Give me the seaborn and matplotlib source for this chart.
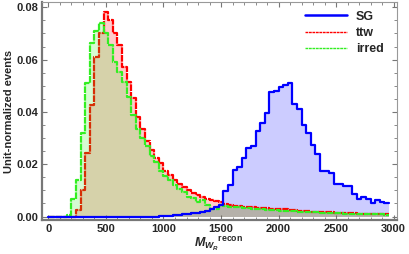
import numpy as np
import pandas as pd
import matplotlib
matplotlib.use("Agg")
import matplotlib.pyplot as plt
from matplotlib.lines import Line2D
from matplotlib.ticker import MultipleLocator, FormatStrFormatter
import seaborn as sns

# bin edges: 0 .. 2960 GeV in steps of 40
bin_width = 40
n_bins = 74

sg = [0.0] * 24 + [
    0.0001, 0.0002, 0.0003, 0.0005, 0.0006, 0.0008, 0.0010, 0.0012, 0.0015, 0.0018,
    0.0022, 0.0028, 0.0038, 0.0046, 0.0099, 0.0121, 0.0178, 0.0191, 0.0223, 0.0261,
    0.0270, 0.0328, 0.0359, 0.0395, 0.0475, 0.0481, 0.0496, 0.0503, 0.0511, 0.0430,
    0.0410, 0.0350, 0.0318, 0.0275, 0.0240, 0.0176, 0.0176, 0.0168, 0.0124, 0.0124,
    0.0115, 0.0115, 0.0085, 0.0066, 0.0074, 0.0066, 0.0053, 0.0064, 0.0055, 0.0053,
]

ttw = [0.0] * 6 + [
    0.0026, 0.0102, 0.0242, 0.0426, 0.0611, 0.0700, 0.0780, 0.0750, 0.0700, 0.0655,
    0.0573, 0.0515, 0.0452, 0.0380, 0.0335, 0.0290, 0.0255, 0.0225, 0.0205, 0.0175,
    0.0160, 0.0140, 0.0126, 0.0112, 0.0100, 0.0090, 0.0082, 0.0074, 0.0066, 0.0062,
    0.0058, 0.0055, 0.0048, 0.0044, 0.0042, 0.0040, 0.0038, 0.0037, 0.0035, 0.0034,
    0.0033, 0.0031, 0.0030, 0.0029, 0.0028, 0.0027, 0.0025, 0.0024, 0.0022, 0.0021,
    0.0020, 0.0019, 0.0018, 0.0017, 0.0016, 0.0016, 0.0015, 0.0014, 0.0013, 0.0013,
    0.0012, 0.0011, 0.0011, 0.0010, 0.0010, 0.0009, 0.0009, 0.0008,
]

irred = [0.0] * 4 + [
    0.0006, 0.0068, 0.0140, 0.0318, 0.0509, 0.0664, 0.0709, 0.0738, 0.0700, 0.0655,
    0.0592, 0.0553, 0.0515, 0.0458, 0.0388, 0.0335, 0.0300, 0.0270, 0.0232, 0.0210,
    0.0176, 0.0155, 0.0140, 0.0121, 0.0104, 0.0092, 0.0076, 0.0070, 0.0057, 0.0064,
    0.0045, 0.0030, 0.0028, 0.0045, 0.0040, 0.0038, 0.0036, 0.0035, 0.0033, 0.0033,
    0.0030, 0.0029, 0.0029, 0.0026, 0.0025, 0.0026, 0.0023, 0.0022, 0.0021, 0.0020,
    0.0019, 0.0019, 0.0017, 0.0016, 0.0016, 0.0015, 0.0014, 0.0013, 0.0013, 0.0012,
    0.0011, 0.0011, 0.0010, 0.0010, 0.0009, 0.0009, 0.0008, 0.0008, 0.0008, 0.0007,
]

labels = ["SG", "ttw", "irred"]
colors = ["#0000ff", "#ff0000", "#33ee22"]

edges = [i * bin_width for i in range(n_bins + 1)]
centers = [e + bin_width / 2 for e in edges[:-1]]

sns.set_style("ticks")
plt.rcParams["font.family"] = ["Liberation Sans", "DejaVu Sans"]
plt.rcParams["font.weight"] = "bold"
plt.rcParams["mathtext.fontset"] = "custom"
plt.rcParams["mathtext.it"] = "Liberation Sans:bold:italic"
plt.rcParams["mathtext.rm"] = "Liberation Sans:bold"

fig = plt.figure(figsize=(4.09, 2.54), dpi=100)
ax = fig.add_axes([0.1015, 0.132, 0.868, 0.860])

series = [sg, ttw, irred]
dash = (0, (3.0, 0.45))
styles = ["-", dash, dash]

for vals, col, ls in zip(series, colors, styles):
    df = pd.DataFrame({"mass": centers, "weight": vals})
    sns.histplot(data=df, x="mass", weights="weight", bins=edges, element="step",
                 fill=True, color=col, alpha=0.2, linewidth=0, ax=ax)
    sns.histplot(data=df, x="mass", weights="weight", bins=edges, element="step",
                 fill=False, color=col, linewidth=1.6, linestyle=ls, ax=ax)

# layering: red outline sits under the green fill, blue outline on top
fill_z = [1.0, 1.2, 2.0]
line_z = [4.0, 1.5, 3.0]
for coll, z in zip(ax.collections, fill_z):
    coll.set_zorder(z)
for line, z in zip(ax.lines, line_z):
    line.set_zorder(z)

ax.set_xlim(-60, 3025)
ax.set_ylim(-0.0015, 0.082)
ax.xaxis.set_major_locator(MultipleLocator(500))
ax.xaxis.set_minor_locator(MultipleLocator(100))
ax.yaxis.set_major_locator(MultipleLocator(0.02))
ax.yaxis.set_minor_locator(MultipleLocator(0.005))
ax.yaxis.set_major_formatter(FormatStrFormatter("%.2f"))

ax.tick_params(which="both", direction="in", top=True, right=True,
               labelsize=8, color="#777777")
ax.tick_params(which="major", length=3.5, width=0.8)
ax.tick_params(which="minor", length=2, width=0.6)
ax.tick_params(axis="x", pad=2.5)
ax.tick_params(axis="y", pad=2.5)

for side in ["left", "bottom"]:
    ax.spines[side].set_linewidth(1.6)
    ax.spines[side].set_color("#777777")
for side in ["top", "right"]:
    ax.spines[side].set_linewidth(0.8)
    ax.spines[side].set_color("#999999")

ax.set_ylabel("Unit-normalized events", fontsize=8, fontweight="bold", labelpad=1.5)
ax.set_xlabel(r"$M_{W_R}{}^{\mathrm{recon}}$", fontsize=9, labelpad=1)

handles = [
    Line2D([], [], color=colors[0], lw=1.8),
    Line2D([], [], color=colors[1], lw=1.0, ls=(0, (2, 0.5))),
    Line2D([], [], color=colors[2], lw=1.0, ls=(0, (2, 0.5))),
]
leg = ax.legend(handles, labels, loc="upper right", bbox_to_anchor=(0.985, 0.995),
                frameon=False, fontsize=9, handlelength=3.4, handletextpad=0.7,
                labelspacing=0.35, borderaxespad=0.2)
for t in leg.get_texts():
    t.set_fontweight("bold")

fig.savefig("out.png", dpi=100)
